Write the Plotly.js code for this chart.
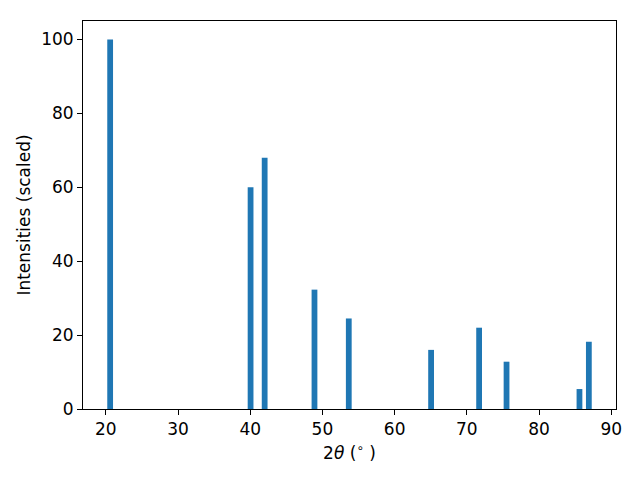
<!DOCTYPE html>
<html>
<head>
<meta charset="utf-8">
<script src="https://cdn.plot.ly/plotly-3.0.1.min.js"></script>
<style>html,body{margin:0;padding:0;background:#fff}#chart{width:640px;height:480px}</style>
</head>
<body>
<div id="chart"></div>
<script>
var twoTheta = [20.6, 40.05, 42.0, 48.9, 53.65, 65.05, 71.7, 75.5, 85.6, 86.9];
var intensities = [100, 60, 68, 32.3, 24.5, 16.0, 22.0, 12.8, 5.4, 18.2];
var xTicks = [20, 30, 40, 50, 60, 70, 80, 90];
var yTicks = [0, 20, 40, 60, 80, 100];

var trace = {
  type: 'bar',
  x: twoTheta,
  y: intensities,
  width: 0.8,
  marker: {color: '#1f77b4', line: {width: 0}},
  hoverinfo: 'x+y'
};

var axisCommon = {
  showline: true, mirror: true, linecolor: '#000', linewidth: 1,
  ticks: 'outside', ticklen: 5, tickwidth: 1, tickcolor: '#000',
  showgrid: false, zeroline: false,
  tickfont: {family: 'DejaVu Sans', size: 17, color: '#000'},
  automargin: false
};

var layout = {
  width: 640, height: 480,
  margin: {l: 83, r: 24, t: 21, b: 71, pad: 0},
  paper_bgcolor: '#fff', plot_bgcolor: '#fff',
  showlegend: false,
  font: {family: 'DejaVu Sans', size: 17, color: '#000'},
  xaxis: Object.assign({}, axisCommon, {
    range: [16.84, 90.66],
    tickvals: xTicks,
    ticktext: xTicks.map(String),
    title: {text: '2<i>θ</i> (<sup>∘</sup> )', font: {family: 'DejaVu Sans', size: 17, color: '#000'}, standoff: 8}
  }),
  yaxis: Object.assign({}, axisCommon, {
    range: [0, 105],
    tickvals: yTicks,
    ticktext: yTicks.map(String),
    title: {text: 'Intensities (scaled)', font: {family: 'DejaVu Sans', size: 17, color: '#000'}, standoff: 6}
  })
};

Plotly.newPlot('chart', [trace], layout, {displayModeBar: false, staticPlot: true});
</script>
</body>
</html>
